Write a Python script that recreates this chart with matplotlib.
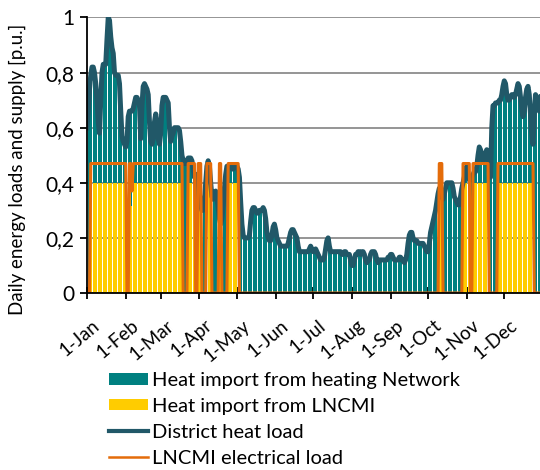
import numpy as np
import matplotlib.pyplot as plt
import matplotlib.transforms as mtransforms
from matplotlib.patches import Patch
from matplotlib.lines import Line2D

plt.rcParams['font.family'] = ['Lato', 'DejaVu Sans']

# district heat load, one value per day [p.u.]
load_jan = [0.60, 0.66, 0.74, 0.79, 0.82, 0.82, 0.80, 0.76, 0.70, 0.62, 0.58, 0.70, 0.80, 0.83, 0.83, 0.83,
            0.92, 1.00, 0.99, 0.93, 0.89, 0.87, 0.80, 0.79, 0.79, 0.79, 0.76, 0.66, 0.57, 0.55, 0.54]
load_feb = [0.53, 0.55, 0.64, 0.66, 0.66, 0.66, 0.67, 0.69, 0.71, 0.71, 0.70, 0.68, 0.56, 0.68,
            0.75, 0.76, 0.75, 0.74, 0.72, 0.62, 0.55, 0.54, 0.56, 0.62, 0.65, 0.62, 0.56, 0.54]
load_mar = [0.58, 0.68, 0.71, 0.71, 0.71, 0.70, 0.69, 0.60, 0.55, 0.57, 0.58, 0.60, 0.60, 0.60, 0.60, 0.59,
            0.55, 0.50, 0.48, 0.47, 0.47, 0.48, 0.49, 0.49, 0.49, 0.48, 0.45, 0.42, 0.42, 0.43, 0.40]
load_apr = [0.36, 0.32, 0.30, 0.30, 0.33, 0.40, 0.46, 0.48, 0.46, 0.40, 0.35, 0.34, 0.36, 0.37, 0.35,
            0.31, 0.27, 0.25, 0.27, 0.32, 0.38, 0.43, 0.46, 0.46, 0.46, 0.46, 0.45, 0.45, 0.46, 0.46]
load_may = [0.46, 0.45, 0.42, 0.33, 0.25, 0.21, 0.20, 0.20, 0.20, 0.20, 0.21, 0.26, 0.30, 0.31, 0.31, 0.30,
            0.29, 0.29, 0.30, 0.30, 0.30, 0.31, 0.30, 0.27, 0.22, 0.20, 0.19, 0.19, 0.21, 0.24, 0.25]
load_jun = [0.23, 0.20, 0.19, 0.18, 0.17, 0.17, 0.17, 0.17, 0.17, 0.17, 0.18, 0.20, 0.22, 0.23, 0.23,
            0.22, 0.21, 0.20, 0.17, 0.15, 0.15, 0.15, 0.15, 0.15, 0.15, 0.15, 0.15, 0.16, 0.17, 0.16]
load_jul = [0.15, 0.15, 0.16, 0.15, 0.14, 0.13, 0.12, 0.12, 0.12, 0.13, 0.16, 0.19, 0.20, 0.17, 0.15, 0.15,
            0.15, 0.15, 0.15, 0.15, 0.15, 0.15, 0.15, 0.14, 0.14, 0.15, 0.15, 0.14, 0.14, 0.14, 0.12]
load_aug = [0.10, 0.10, 0.12, 0.14, 0.14, 0.15, 0.15, 0.14, 0.15, 0.15, 0.14, 0.12, 0.11, 0.12, 0.12, 0.14,
            0.15, 0.15, 0.15, 0.14, 0.12, 0.11, 0.12, 0.12, 0.12, 0.12, 0.12, 0.12, 0.12, 0.13, 0.13]
load_sep = [0.14, 0.14, 0.13, 0.12, 0.12, 0.12, 0.12, 0.13, 0.13, 0.12, 0.12, 0.11, 0.12, 0.14, 0.18,
            0.21, 0.22, 0.22, 0.20, 0.19, 0.19, 0.19, 0.18, 0.18, 0.18, 0.18, 0.18, 0.17, 0.16, 0.15]
load_oct = [0.15, 0.18, 0.22, 0.24, 0.26, 0.28, 0.30, 0.33, 0.36, 0.38, 0.37, 0.35, 0.34, 0.36, 0.38, 0.40,
            0.40, 0.40, 0.40, 0.40, 0.38, 0.35, 0.34, 0.33, 0.32, 0.32, 0.35, 0.38, 0.40, 0.42, 0.45]
load_nov = [0.46, 0.43, 0.41, 0.41, 0.42, 0.43, 0.44, 0.44, 0.46, 0.50, 0.53, 0.52, 0.49, 0.48, 0.49,
            0.51, 0.52, 0.49, 0.44, 0.42, 0.60, 0.68, 0.68, 0.69, 0.69, 0.69, 0.70, 0.70, 0.72, 0.75]
load_dec = [0.77, 0.76, 0.72, 0.70, 0.70, 0.71, 0.72, 0.72, 0.71, 0.72, 0.74, 0.76, 0.75, 0.71, 0.67, 0.64,
            0.66, 0.71, 0.74, 0.75, 0.72, 0.65, 0.58, 0.54, 0.65, 0.72, 0.71, 0.67, 0.66, 0.70, 0.73]

heat_load = np.array(load_jan + load_feb + load_mar + load_apr + load_may + load_jun +
                     load_jul + load_aug + load_sep + load_oct + load_nov + load_dec)

# LNCMI running periods (first day, day after last), day 0 = 1 Jan
lncmi_on = [(3, 32), (34, 77), (81, 87), (89, 92), (96, 100), (106, 108), (113, 122),
            (282, 285), (301, 307), (309, 322), (329, 358)]
lncmi_level = 0.47
lncmi_partial = {36: 0.37}
lncmi_heat_max = 0.40

month_starts = [0, 31, 59, 90, 120, 151, 181, 212, 243, 273, 304, 334]
month_labels = ['1-Jan', '1-Feb', '1-Mar', '1-Apr', '1-May', '1-Jun',
                '1-Jul', '1-Aug', '1-Sep', '1-Oct', '1-Nov', '1-Dec']

days = np.arange(len(heat_load))
elec = np.zeros(len(days))
for a, b in lncmi_on:
    elec[a:b] = lncmi_level
for d, v in lncmi_partial.items():
    elec[d] = v
lncmi_heat = np.minimum(heat_load, lncmi_heat_max * elec / lncmi_level)
network_heat = heat_load - lncmi_heat

teal = '#008080'
yellow = '#FFCC00'
dark = '#215868'
orange = '#E46C0A'

fig = plt.figure(figsize=(5.4, 4.7), dpi=100)
ax = fig.add_axes([87 / 540, 177 / 470, 456 / 540, 275.5 / 470])

ax.bar(days, lncmi_heat, width=0.8, color=yellow, linewidth=0, zorder=2)
ax.bar(days, network_heat, bottom=lncmi_heat, width=0.8, color=teal, linewidth=0, zorder=2)
ax.plot(days, heat_load, color=dark, lw=3.6, zorder=3, solid_joinstyle='round')
ax.plot(days, elec, color=orange, lw=2.2, zorder=4)

ax.set_xlim(0, 365)
ax.set_ylim(0, 1)
ax.set_axisbelow(True)
ax.yaxis.grid(True, color='#8c8c8c', lw=1.3)

for s in ['top', 'right']:
    ax.spines[s].set_visible(False)
for s in ['left', 'bottom']:
    ax.spines[s].set_linewidth(1.3)
    ax.spines[s].set_zorder(5)

ax.set_yticks([0, 0.2, 0.4, 0.6, 0.8, 1.0])
ax.set_yticklabels(['0', '0,2', '0,4', '0,6', '0,8', '1'], fontsize=15)
ax.tick_params(axis='y', direction='out', length=5, width=1.3, pad=4)

ax.set_xticks(month_starts)
ax.set_xticklabels(month_labels, fontsize=13.5, rotation=40, ha='right', rotation_mode='anchor')
ax.tick_params(axis='x', direction='inout', length=8, width=1.3, pad=13)
shift = mtransforms.ScaledTranslation(5 / 100, 0, fig.dpi_scale_trans)
for lab in ax.get_xticklabels():
    lab.set_transform(lab.get_transform() + shift)

fig.text(17 / 540, 1 - 169 / 470, 'Daily energy loads and supply [p.u.]', rotation=90,
         ha='center', va='center', fontsize=13.5)

handles = [Patch(facecolor=teal), Patch(facecolor=yellow),
           Line2D([0], [0], color=dark, lw=3), Line2D([0], [0], color=orange, lw=1.8)]
labels = ['Heat import from heating Network', 'Heat import from LNCMI',
          'District heat load', 'LNCMI electrical load']
fig.legend(handles, labels, loc='upper left', bbox_to_anchor=(109 / 540, 1 - 372 / 470),
           frameon=False, fontsize=14.5, handlelength=1.95, handleheight=0.5,
           handletextpad=0.2, labelspacing=0.44, borderpad=0, borderaxespad=0)

fig.savefig('out.png', dpi=100)
